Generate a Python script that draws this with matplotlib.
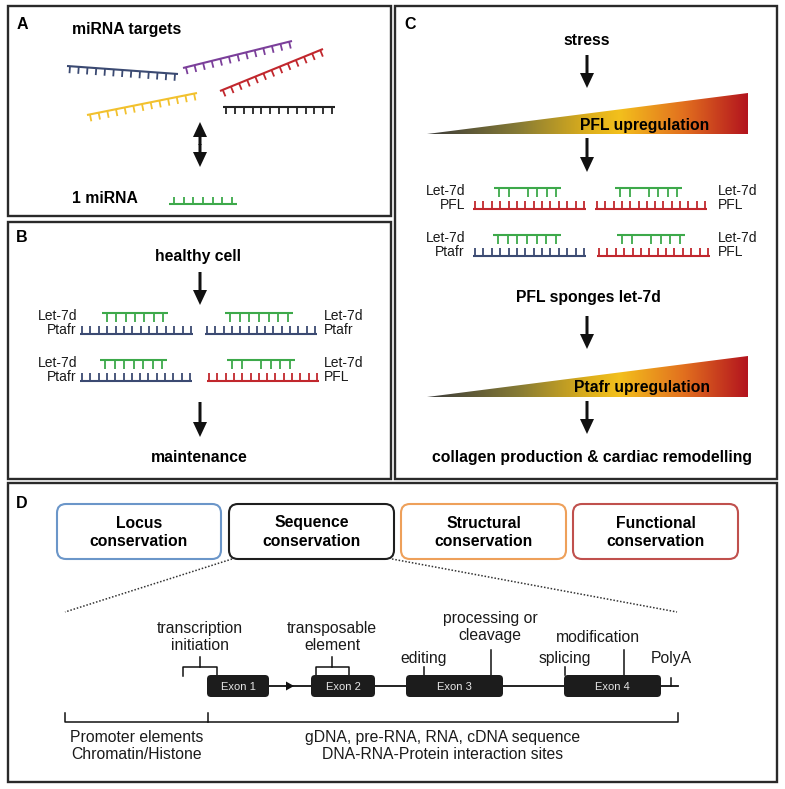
import numpy as np
import matplotlib.pyplot as plt
from matplotlib.patches import Rectangle, FancyBboxPatch, Polygon
from matplotlib.colors import LinearSegmentedColormap

plt.rcParams['font.family'] = ['Liberation Sans', 'DejaVu Sans']

W, H = 785, 789

NAVY = '#3b4a72'
RED = '#c1272d'
GREEN = '#3da94a'
PURPLE = '#7b3f9a'
YELLOW = '#f2c12e'
BLACK = '#222222'

# panel frames: label, x0, y0, x1, y1, label position
panels = [('A', 8, 6, 391, 216, 22, 24),
          ('B', 8, 222, 391, 479, 22, 237),
          ('C', 395, 6, 777, 479, 410, 24),
          ('D', 8, 483, 777, 782, 22, 503)]

# panel A: target strands (x0, y0, x1, y1, teeth, colour)
targets = [(67, 66, 178, 74, 13, NAVY),
           (183, 68, 292, 41, 13, PURPLE),
           (220, 91, 323, 49, 13, RED),
           (87, 115, 197, 93, 13, YELLOW),
           (223, 107, 335, 107, 13, BLACK)]

# duplexes: mirna x0, x1, y, gapped?, target x0, x1, y, colour, label side, label x, target name
duplexes = [(102, 168, 313, False, 80, 193, 334, NAVY, 'left', 77, 'Ptafr'),
            (225, 293, 313, False, 205, 317, 334, NAVY, 'right', 324, 'Ptafr'),
            (100, 167, 360, False, 80, 192, 381, NAVY, 'left', 77, 'Ptafr'),
            (227, 295, 360, True, 207, 319, 381, RED, 'right', 324, 'PFL'),
            (494, 561, 188, True, 473, 586, 209, RED, 'left', 465, 'PFL'),
            (615, 682, 188, True, 595, 707, 209, RED, 'right', 718, 'PFL'),
            (493, 561, 235, False, 473, 586, 256, NAVY, 'left', 465, 'Ptafr'),
            (617, 685, 235, True, 597, 710, 256, RED, 'right', 718, 'PFL')]

# arrows (x, y start, y end)
arrows = [(200, 272, 305), (200, 402, 437), (587, 55, 88),
          (587, 138, 172), (587, 316, 349), (587, 401, 434)]

# bold headings (text, x, y)
headings = [('miRNA targets', 127, 29), ('1 miRNA', 105, 198),
            ('healthy cell', 198, 256), ('maintenance', 199, 457),
            ('stress', 587, 40), ('PFL sponges let-7d', 588, 297),
            ('collagen production & cardiac remodelling', 592, 457)]

# gradient wedges: tip x, right x, base y, top y, text, text x, text y
wedges = [(427, 748, 134, 93, 'PFL upregulation', 645, 125),
          (427, 748, 397, 356, 'Ptafr upregulation', 642, 387)]

# panel D
cons_boxes = [('Locus\nconservation', 57, 221, '#6b96c9'),
              ('Sequence\nconservation', 229, 394, '#1e1e1e'),
              ('Structural\nconservation', 401, 566, '#eea05a'),
              ('Functional\nconservation', 573, 738, '#c0504d')]
exons = [('Exon 1', 207, 269), ('Exon 2', 311, 375),
         ('Exon 3', 406, 503), ('Exon 4', 564, 661)]
feature_ticks = [(424, 667), (491, 650), (565, 667), (624, 650)]
feature_text = [('transcription\ninitiation', 200, 637),
                ('transposable\nelement', 332, 637),
                ('editing', 424, 658), ('processing or\ncleavage', 490, 627),
                ('splicing', 565, 658), ('modification', 598, 637),
                ('PolyA', 671, 658)]
region_text = [('Promoter elements\nChromatin/Histone', 137, 746),
               ('gDNA, pre-RNA, RNA, cDNA sequence\nDNA-RNA-Protein interaction sites', 443, 746)]

fig = plt.figure(figsize=(W / 100, H / 100), dpi=100)
ax = fig.add_axes([0, 0, 1, 1])
ax.set_xlim(0, W)
ax.set_ylim(H, 0)
ax.axis('off')


def strand(x0, y0, x1, y1, n, color, side=1, tlen=8, inset=3, skip=(), lw=1.5):
    ax.plot([x0, x1], [y0, y1], color=color, lw=lw, solid_capstyle='butt')
    d = np.array([x1 - x0, y1 - y0], float)
    L = np.hypot(*d)
    u = d / L
    nrm = np.array([-u[1], u[0]]) * side
    for i, t in enumerate(np.linspace(inset, L - inset, n)):
        if i in skip:
            continue
        p = np.array([x0, y0]) + u * t
        q = p + nrm * tlen
        ax.plot([p[0], q[0]], [p[1], q[1]], color=color, lw=1.3,
                solid_capstyle='butt')


def arrow(x, y0, y1):
    ax.arrow(x, y0, 0, y1 - y0, width=3, head_width=14, head_length=15,
             length_includes_head=True, color='#111111', lw=0)


for lab, x0, y0, x1, y1, lx, ly in panels:
    ax.add_patch(Rectangle((x0, y0), x1 - x0, y1 - y0, fill=False,
                           ec='#2a2a2a', lw=1.7))
    ax.text(lx, ly, lab, fontsize=11.5, fontweight='bold', ha='center', va='center')

for x0, y0, x1, y1, n, c in targets:
    strand(x0, y0, x1, y1, n, c, side=1, tlen=7, inset=3)

# double arrow in A
ax.arrow(200, 145, 0, -23, width=3, head_width=14, head_length=15,
         length_includes_head=True, color='#111111', lw=0)
ax.arrow(200, 144, 0, 23, width=3, head_width=14, head_length=15,
         length_includes_head=True, color='#111111', lw=0)
strand(169, 204, 237, 204, 7, GREEN, side=-1, tlen=7, inset=5)

for mx0, mx1, my, gap, tx0, tx1, ty, tc, side, lx, name in duplexes:
    strand(mx0, my, mx1, my, 7, GREEN, side=1, tlen=8.5, inset=5,
           skip=(2,) if gap else ())
    strand(tx0, ty, tx1, ty, 14, tc, side=-1, tlen=8.5, inset=2)
    ha = 'right' if side == 'left' else 'left'
    ax.text(lx, my + 3, 'Let-7d', fontsize=10, ha=ha, va='center', color='#1a1a1a')
    ax.text(lx, ty - 4, name, fontsize=10, ha=ha, va='center', color='#1a1a1a')

for x, y0, y1 in arrows:
    arrow(x, y0, y1)

for t, x, y in headings:
    ax.text(x, y, t, fontsize=11.3, fontweight='bold', ha='center', va='center')

cmap = LinearSegmentedColormap.from_list('up', [
    (0.0, '#3a3a3a'), (0.28, '#857a35'), (0.5, '#dcae1c'), (0.6, '#f3c01c'),
    (0.8, '#e2701f'), (1.0, '#b3141e')])
grad = np.linspace(0, 1, 256).reshape(1, -1)
for xt, xr, yb, yt, t, tx, ty in wedges:
    im = ax.imshow(grad, cmap=cmap, extent=(xt, xr, yb, yt), aspect='auto',
                   interpolation='bilinear')
    tri = Polygon([(xt, yb), (xr, yb), (xr, yt)], closed=True, fc='none', ec='none')
    ax.add_patch(tri)
    im.set_clip_path(tri)
    ax.text(tx, ty, t, fontsize=11.3, fontweight='bold', ha='center', va='center')

ax.set_xlim(0, W)
ax.set_ylim(H, 0)

# panel D
for t, x0, x1, c in cons_boxes:
    ax.add_patch(FancyBboxPatch((x0, 504), x1 - x0, 55,
                                boxstyle='round,pad=0,rounding_size=9',
                                fill=False, ec=c, lw=1.5))
    ax.text((x0 + x1) / 2, 532, t, fontsize=11.3, fontweight='bold',
            ha='center', va='center', linespacing=1.25)

ax.plot([232, 65], [559, 612], ls=(0, (1, 1.2)), color='#333333', lw=1.1)
ax.plot([392, 677], [559, 612], ls=(0, (1, 1.2)), color='#333333', lw=1.1)

ax.plot([269, 678], [686, 686], color='#111111', lw=1.3)
ax.add_patch(Polygon([(286, 681.5), (294, 686), (286, 690.5)], closed=True,
                     fc='#111111', ec='none'))
for t, x0, x1 in exons:
    ax.add_patch(FancyBboxPatch((x0, 675), x1 - x0, 22,
                                boxstyle='round,pad=0,rounding_size=4',
                                fc='#1c1c1c', ec='none', zorder=3))
    ax.text((x0 + x1) / 2, 686.5, t, fontsize=8, color='#e6e6e6',
            ha='center', va='center', zorder=4)

# brackets above exons
ax.plot([183, 183, 217, 217], [676, 667, 667, 675], color='#111111', lw=1.1)
ax.plot([200, 200], [667, 657], color='#111111', lw=1.1)
ax.plot([316, 316, 349, 349], [675, 667, 667, 675], color='#111111', lw=1.1)
ax.plot([332, 332], [667, 657], color='#111111', lw=1.1)
for x, yt in feature_ticks:
    ax.plot([x, x], [675, yt], color='#111111', lw=1.1)
ax.plot([671, 671], [686, 678], color='#111111', lw=1.1)

for t, x, y in feature_text:
    ax.text(x, y, t, fontsize=11.3, ha='center', va='center',
            linespacing=1.15, color='#1a1a1a')

# bottom bracket
ax.plot([65, 65, 678, 678], [713, 722, 722, 713], color='#111111', lw=1.1)
ax.plot([208, 208], [722, 713], color='#111111', lw=1.1)
for t, x, y in region_text:
    ax.text(x, y, t, fontsize=11.3, ha='center', va='center',
            linespacing=1.15, color='#1a1a1a')

fig.savefig('out.png', dpi=100)
